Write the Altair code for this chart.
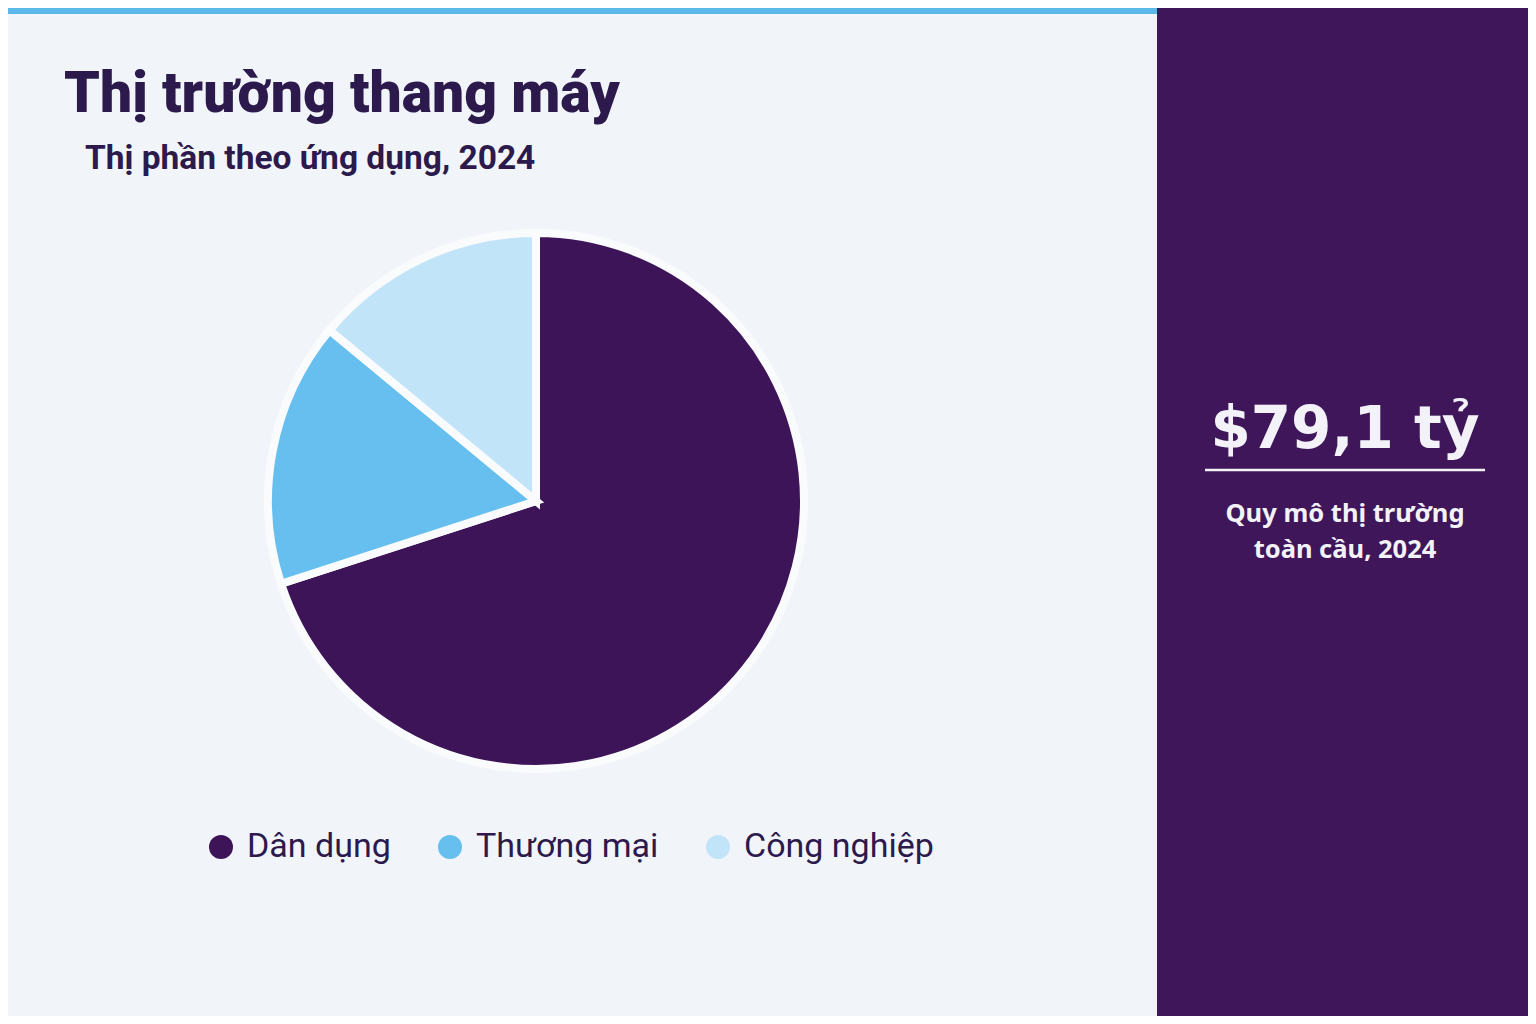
import altair as alt
import pandas as pd

# market share by application, 2024
segments = ["Dân dụng", "Thương mại", "Công nghiệp"]
shares = [70, 16, 14]
seg_colors = ["#3d1458", "#66bfee", "#c1e4f8"]

headline = "Thị trường thang máy"
subhead = "Thị phần theo ứng dụng, 2024"
market_size = "$79,1 tỷ"
market_note = ["Quy mô thị trường", "toàn cầu, 2024"]

FONT = "Roboto"
INK = "#2c1a4c"
PURPLE = "#3e1659"
PAPER = "#f1f5fa"
WHITE = "#f2f2f8"

pie_df = pd.DataFrame({"segment": segments, "share": shares,
                       "rank": list(range(len(segments)))})
one = pd.DataFrame({"k": [0]})

# side panel + top stripe
side = alt.Chart(one).mark_rect(color=PURPLE).encode(
    x=alt.value(1149), x2=alt.value(1520), y=alt.value(0), y2=alt.value(1008))
stripe = alt.Chart(one).mark_rect(color="#5db8ea").encode(
    x=alt.value(0), x2=alt.value(1149), y=alt.value(0), y2=alt.value(6))

pie = alt.Chart(pie_df).mark_arc(radius=268, stroke="#fafbfd", strokeWidth=8).encode(
    theta=alt.Theta("share:Q", stack=True),
    color=alt.Color("segment:N",
                    scale=alt.Scale(domain=segments, range=seg_colors),
                    sort=segments,
                    legend=alt.Legend(title=None, orient="none", direction="horizontal",
                                      legendX=196, legendY=822)),
    order=alt.Order("rank:O"),
    x=alt.value(528),
    y=alt.value(493),
)

title = alt.Chart(one).mark_text(text=headline, font=FONT, fontSize=57, fontWeight=900,
                                 color=INK, align="left", baseline="alphabetic").encode(
    x=alt.value(56), y=alt.value(104))
subtitle = alt.Chart(one).mark_text(text=subhead, font=FONT, fontSize=33.5, fontWeight="bold",
                                    color=INK, align="left", baseline="alphabetic").encode(
    x=alt.value(77), y=alt.value(161))

big = alt.Chart(one).mark_text(text=market_size, font="DejaVu Sans", fontSize=58,
                               fontWeight="bold", color=WHITE, align="center",
                               baseline="alphabetic").encode(
    x=alt.value(1337), y=alt.value(440))
rule = alt.Chart(one).mark_rule(color=WHITE, strokeWidth=2.5).encode(
    x=alt.value(1197), x2=alt.value(1477), y=alt.value(462))
note = alt.Chart(one).mark_text(text=market_note, font="Noto Sans", fontSize=25.5,
                                fontWeight="bold", color=WHITE, align="center",
                                baseline="alphabetic", lineHeight=36).encode(
    x=alt.value(1337), y=alt.value(514))

chart = alt.layer(side, stripe, pie, title, subtitle, big, rule, note).properties(
    width=1520,
    height=1008,
    autosize=alt.AutoSizeParams(type="none"),
    padding=0,
    background=PAPER,
).configure_view(
    stroke=None
).configure_legend(
    symbolType="circle",
    symbolSize=576,
    symbolStrokeWidth=0,
    symbolOpacity=1,
    labelFont=FONT,
    labelFontSize=34,
    labelColor=INK,
    labelOffset=9,
    labelLimit=0,
    columnPadding=42,
    padding=0,
)

chart.save("out.html", embed_options={"renderer": "svg", "actions": False})
